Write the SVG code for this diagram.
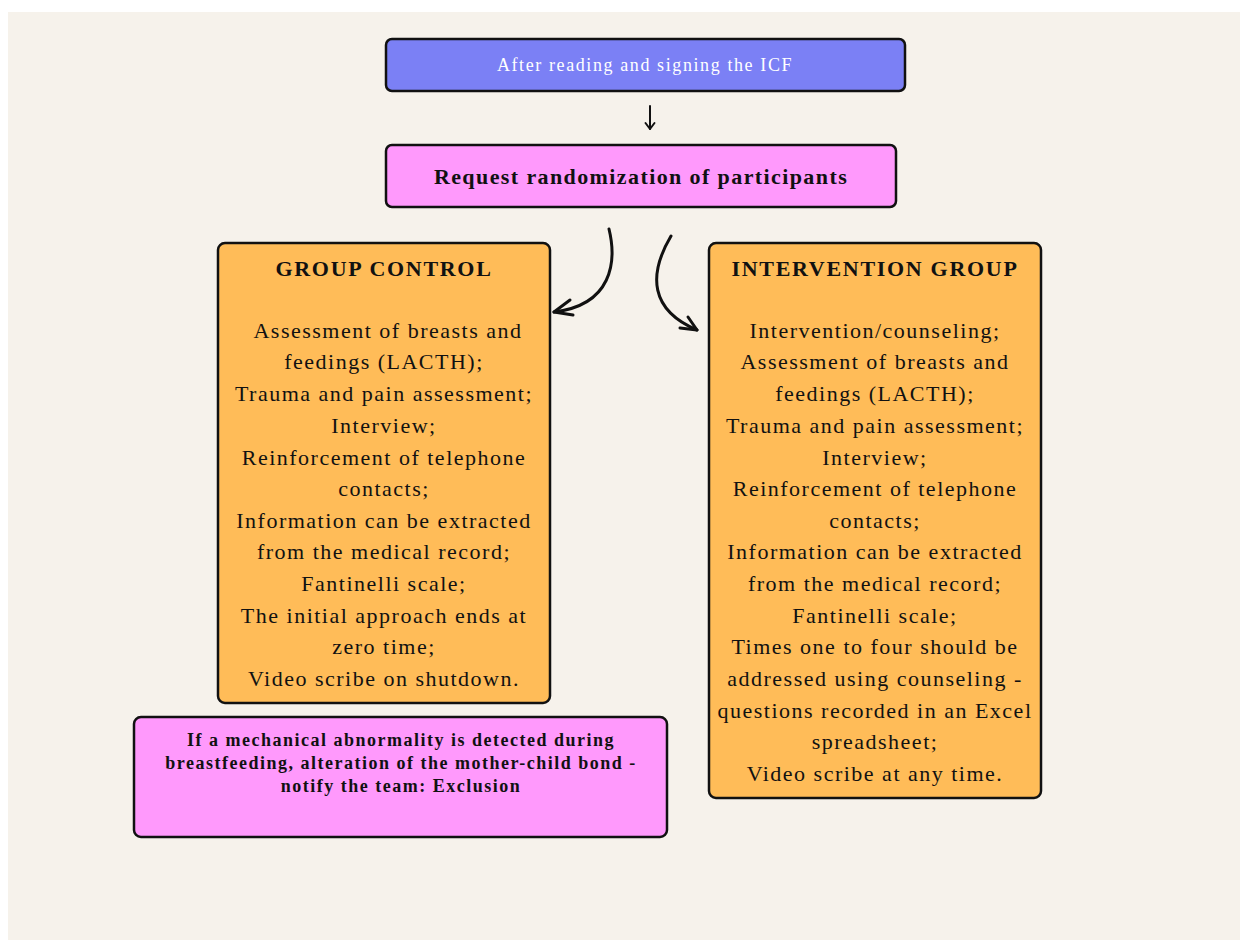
<svg xmlns="http://www.w3.org/2000/svg" width="1240" height="940" viewBox="0 0 1240 940">
<style>
.box{stroke:#111;stroke-width:2.5}
.t{font-family:"Liberation Serif","Times New Roman",serif;text-anchor:middle;fill:#111}
.body{font-size:22px;letter-spacing:1.5px}
.head{font-size:22px;font-weight:bold;letter-spacing:1.7px}
.conn{fill:none;stroke:#111;stroke-width:3;stroke-linecap:round;stroke-linejoin:round}
</style>
<rect x="0" y="0" width="1240" height="940" fill="#ffffff"/>
<rect x="8" y="12" width="1232" height="928" fill="#f6f2eb"/>

<g id="icf">
<rect class="box" x="386" y="39" width="519" height="52" rx="6" fill="#7b80f5"/>
<text class="t" x="645" y="71" style="font-size:18px;letter-spacing:1.6px;fill:#ffffff">After reading and signing the ICF</text>
</g>

<g id="randomization">
<rect class="box" x="386" y="145" width="510" height="62" rx="6" fill="#ff99fc"/>
<text class="t" x="641" y="184" style="font-size:22px;font-weight:bold;letter-spacing:1.4px">Request randomization of participants</text>
</g>

<g id="group-control">
<rect class="box" x="218" y="243" width="332" height="460" rx="7" fill="#ffbc58"/>
<text class="t head" x="384" y="276">GROUP CONTROL</text>
<g class="t body">
<text x="388" y="338">Assessment of breasts and</text>
<text x="384" y="369">feedings (LACTH);</text>
<text x="384" y="401">Trauma and pain assessment;</text>
<text x="384" y="433">Interview;</text>
<text x="384" y="465">Reinforcement of telephone</text>
<text x="384" y="496">contacts;</text>
<text x="384" y="528">Information can be extracted</text>
<text x="384" y="559">from the medical record;</text>
<text x="384" y="591">Fantinelli scale;</text>
<text x="384" y="623">The initial approach ends at</text>
<text x="384" y="654">zero time;</text>
<text x="384" y="686">Video scribe on shutdown.</text>
</g>
</g>

<g id="intervention-group">
<rect class="box" x="709" y="243" width="332" height="555" rx="7" fill="#ffbc58"/>
<text class="t head" x="875" y="276">INTERVENTION GROUP</text>
<g class="t body">
<text x="875" y="338">Intervention/counseling;</text>
<text x="875" y="369">Assessment of breasts and</text>
<text x="875" y="401">feedings (LACTH);</text>
<text x="875" y="433">Trauma and pain assessment;</text>
<text x="875" y="465">Interview;</text>
<text x="875" y="496">Reinforcement of telephone</text>
<text x="875" y="528">contacts;</text>
<text x="875" y="559">Information can be extracted</text>
<text x="875" y="591">from the medical record;</text>
<text x="875" y="623">Fantinelli scale;</text>
<text x="875" y="654">Times one to four should be</text>
<text x="875" y="686">addressed using counseling -</text>
<text x="875" y="718">questions recorded in an Excel</text>
<text x="875" y="749">spreadsheet;</text>
<text x="875" y="781">Video scribe at any time.</text>
</g>
</g>

<g id="exclusion">
<rect class="box" x="134" y="717" width="533" height="120" rx="7" fill="#ff99fc"/>
<g class="t" style="font-size:18px;font-weight:bold;letter-spacing:1.5px">
<text x="401" y="746">If a mechanical abnormality is detected during</text>
<text x="401" y="769">breastfeeding, alteration of the mother-child bond -</text>
<text x="401" y="792">notify the team: Exclusion</text>
</g>
</g>

<g id="connectors">
<path class="conn" style="stroke-width:2" d="M650,106 L650,129"/>
<path class="conn" style="stroke-width:2" d="M645.5,123 L650,129 L654.5,123"/>
<path class="conn" d="M609,229 C617,262 612,305 554,312"/>
<path class="conn" d="M570,300 L554,312 L573,315"/>
<path class="conn" d="M671,236 C648,275 650,310 697,330"/>
<path class="conn" d="M688,317 L697,330 L680,328"/>
</g>
</svg>
